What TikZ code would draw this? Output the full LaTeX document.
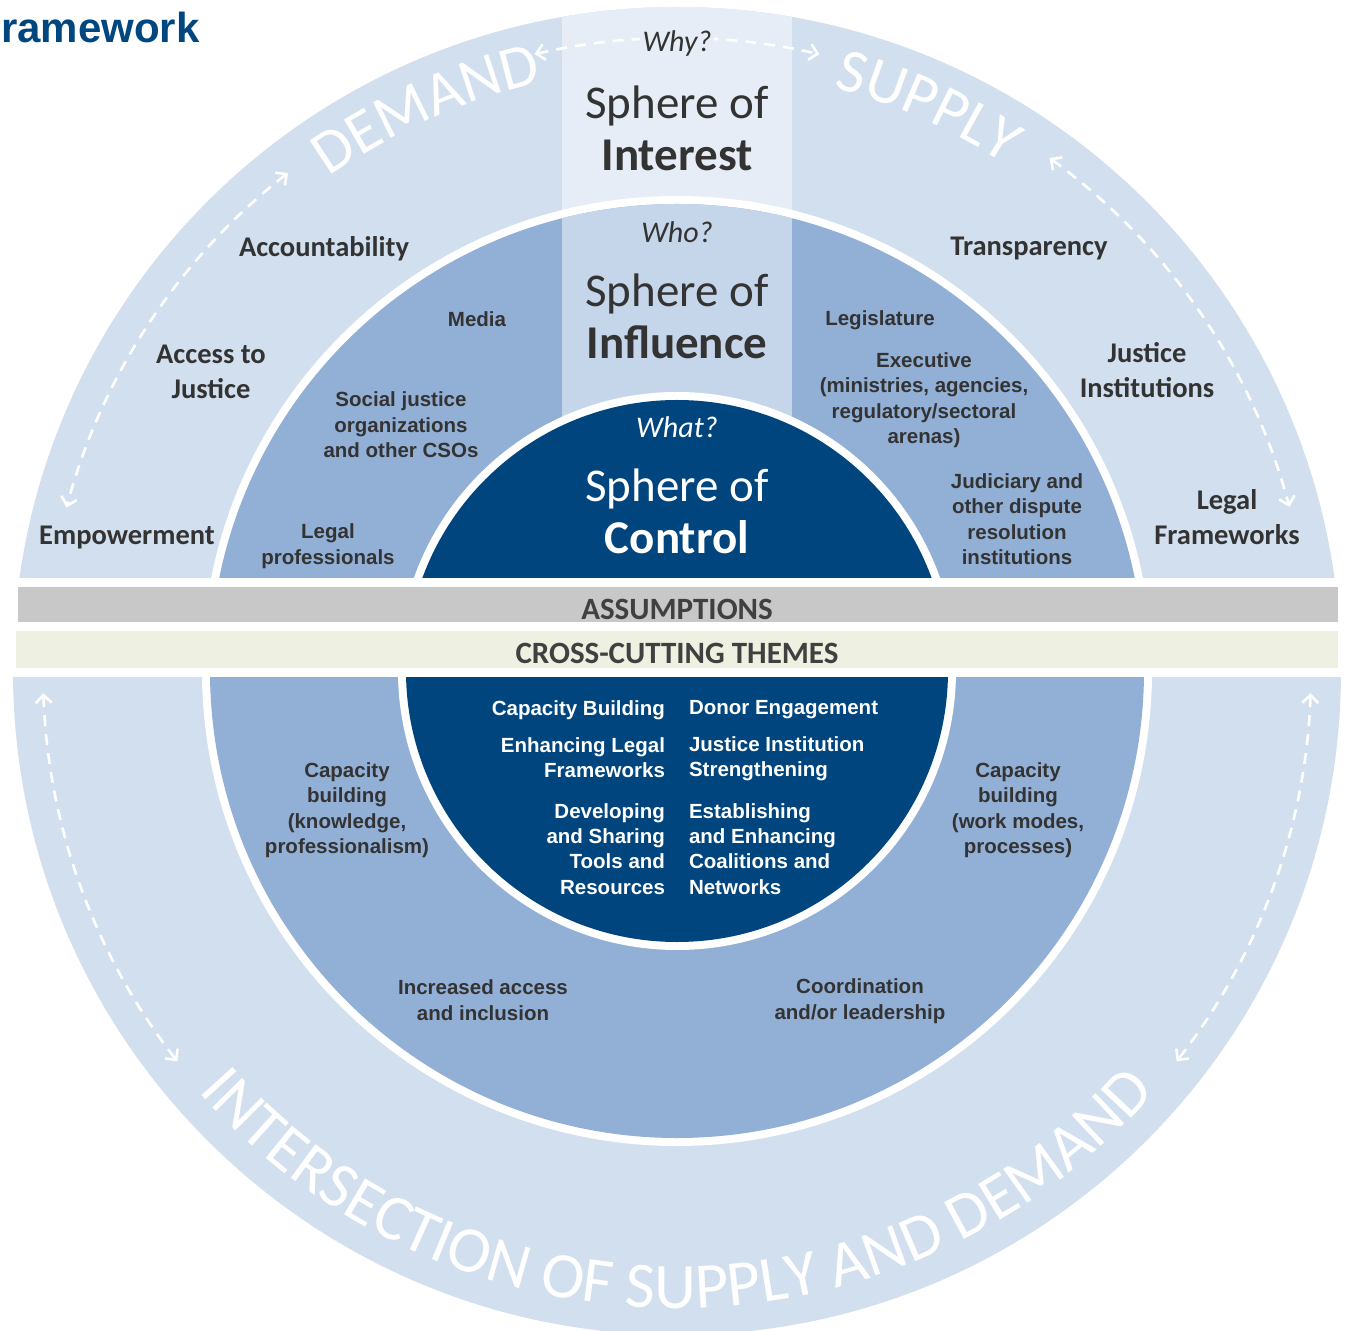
\documentclass[tikz,border=0pt]{standalone}
\usepackage{fontspec}
\setmainfont{Carlito}
\newfontfamily\arialfont{Liberation Sans}
\usetikzlibrary{arrows.meta,decorations.text}
\definecolor{ringlight}{HTML}{D2DFEE}
\definecolor{interestcol}{HTML}{E6EDF6}
\definecolor{ringmid}{HTML}{92AFD5}
\definecolor{influencecol}{HTML}{C5D5EA}
\definecolor{ringdark}{HTML}{00457D}
\definecolor{assumgray}{HTML}{C8C8C8}
\definecolor{themebeige}{HTML}{EEF0E2}
\definecolor{labelgray}{HTML}{333333}
\definecolor{titleblue}{HTML}{00467F}
\newcommand\curvefont{\fontsize{62}{62}\selectfont}
\newcommand\bigcurvefont{\fontsize{65}{65}\selectfont}
\begin{document}
\begin{tikzpicture}[x=1pt,y=1pt,
    ringlabel/.style={font=\fontsize{28.5}{35}\selectfont\bfseries, text=labelgray, align=center},
    actor/.style={font=\arialfont\fontsize{20.5}{25.5}\selectfont\bfseries, text=labelgray, align=center},
    theme/.style={font=\arialfont\fontsize{20.5}{25.3}\selectfont\bfseries, text=white},
    sphere/.style={font=\fontsize{47}{52}\selectfont, align=center},
    question/.style={font=\fontsize{30}{30}\selectfont\itshape},
    bandtext/.style={font=\fontsize{31}{31}\selectfont\bfseries, text=black!75},
    dasharc/.style={white, line width=2.6pt, dash pattern=on 11pt off 8pt,
        >={Straight Barb[length=8pt,width=16pt]}}]
    \useasboundingbox (-677,-659) rectangle (669,671);
    % rings
    \fill[ringlight] (0,0) circle[radius=664];
    \begin{scope}
        \clip (0,0) circle[radius=664];
        \fill[interestcol] (-114.5,93) rectangle (114.5,671);
    \end{scope}
    \fill[white] (0,0) circle[radius=475];
    \fill[ringmid] (0,0) circle[radius=467];
    \begin{scope}
        \clip (0,0) circle[radius=467];
        \fill[influencecol] (-114.5,93) rectangle (114.5,470);
    \end{scope}
    \fill[white] (0,0) circle[radius=279];
    \fill[ringdark] (0,0) circle[radius=271];
    % bands
    \fill[white] (-677,-6) rectangle (669,93);
    \fill[assumgray] (-659,49) rectangle (661,84);
    \fill[themebeige] (-661,3) rectangle (661,40);
    \node[bandtext] (assumptions) at (0,62) {ASSUMPTIONS};
    \node[bandtext] (themes) at (0,18) {CROSS-CUTTING THEMES};
    % curved words
    \path[decorate, decoration={text along path, text={|\curvefont|DEMAND}, text align=center, text color=white}]
        (139:604) arc[start angle=139, end angle=89, radius=604];
    \path[decorate, decoration={text along path, text={|\curvefont|SUPPLY}, text align=center, text color=white}]
        (91:604) arc[start angle=91, end angle=41, radius=604];
    \path[decorate, decoration={text along path, text={|\bigcurvefont|INTERSECTION OF SUPPLY AND DEMAND}, text align=center, text color=white}]
        (200:637) arc[start angle=200, end angle=340, radius=637];
    % dashed arrows
    \draw[dasharc,<->] (103:633) arc[start angle=103, end angle=77, radius=633];
    \draw[dasharc,<->] (128:632) arc[start angle=128, end angle=165, radius=632];
    \draw[dasharc,<->] (54:634) arc[start angle=54, end angle=15, radius=634];
    \draw[dasharc,<->] (182:634) arc[start angle=182, end angle=218, radius=634];
    \draw[dasharc,<->] (358:634) arc[start angle=358, end angle=322, radius=634];
    \node[font=\arialfont\fontsize{42}{42}\selectfont\bfseries, text=titleblue, anchor=base west, inner sep=0pt] (title) at (-676,628) {ramework};
    % spheres
    \node[question, text=labelgray, fill=interestcol, inner sep=3pt] (why) at (0,627) {Why?};
    \node[sphere, text=labelgray] (interest) at (0,543) {Sphere of\\\textbf{Interest}};
    \node[question, text=labelgray] (who) at (0,439) {Who?};
    \node[sphere, text=labelgray] (influence) at (0,355) {Sphere of\\\textbf{Influence}};
    \node[question, text=white] (what) at (0,244) {What?};
    \node[sphere, text=white] (control) at (0,160) {Sphere of\\\textbf{Control}};
    % outer ring labels
    \node[ringlabel] (accountability) at (-353,422) {Accountability};
    \node[ringlabel] (access) at (-466,299) {Access to\\Justice};
    \node[ringlabel] (empowerment) at (-550,133) {Empowerment};
    \node[ringlabel] (transparency) at (352,422) {Transparency};
    \node[ringlabel] (institutions) at (470,301) {Justice\\Institutions};
    \node[ringlabel] (frameworks) at (550,154) {Legal\\Frameworks};
    % middle ring labels
    \node[actor] (media) at (-200,352) {Media};
    \node[actor] (csos) at (-276,246) {Social justice\\organizations\\and other CSOs};
    \node[actor] (legalpro) at (-349,125) {Legal\\professionals};
    \node[actor] (legislature) at (203,351) {Legislature};
    \node[actor] (executive) at (247,271) {Executive\\(ministries, agencies,\\regulatory/sectoral\\arenas)};
    \node[actor] (judiciary) at (340,152) {Judiciary and\\other dispute\\resolution\\institutions};
    \node[actor] (capknow) at (-330,-139) {Capacity\\building\\(knowledge,\\professionalism)};
    \node[actor] (capwork) at (341,-139) {Capacity\\building\\(work modes,\\processes)};
    \node[actor] (access2) at (-194,-329) {Increased access\\and inclusion};
    \node[actor] (coord) at (183,-330) {Coordination\\and/or leadership};
    % themes
    \node[theme, anchor=east] (capbuild) at (-8.5,-39) {Capacity Building};
    \node[theme, anchor=east, align=right] (enhlegal) at (-8.5,-86.5) {Enhancing Legal\\Frameworks};
    \node[theme, anchor=east, align=right] (tools) at (-8.5,-178) {Developing\\and Sharing\\Tools and\\Resources};
    \node[theme, anchor=west] (donor) at (8.5,-39) {Donor Engagement};
    \node[theme, anchor=west, align=left] (strength) at (8.5,-87.5) {Justice Institution\\Strengthening};
    \node[theme, anchor=west, align=left] (coalitions) at (8.5,-178) {Establishing\\and Enhancing\\Coalitions and\\Networks};
\end{tikzpicture}
\end{document}
